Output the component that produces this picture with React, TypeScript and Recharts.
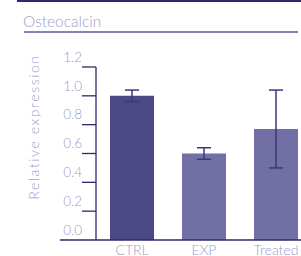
import { BarChart, Bar, XAxis, YAxis, ErrorBar, Cell } from "recharts";

const groups = ["CTRL", "EXP", "Treated"];
const expression = [1.0, 0.6, 0.77];
const errors = [0.04, 0.04, 0.27];
const yTicks = [0, 0.2, 0.4, 0.6, 0.8, 1.0, 1.2];

const data = groups.map((g, i) => ({ group: g, value: expression[i], err: errors[i] }));

const navy = "#2c2a6c";
const lightText = "#9e9cc9";
const barColors = ["#4b4886", "#716fa3", "#716fa3"];
const font = "Lato, 'Open Sans', sans-serif";

function YTick(props: any) {
  const { x, y, payload } = props;
  const isZero = payload.value === 0;
  return (
    <g>
      <line
        x1={isZero ? x - 36 : x - 14}
        x2={isZero ? x + 230 : x}
        y1={y}
        y2={y}
        stroke={navy}
        strokeWidth={1.3}
      />
      <text
        x={x - 14}
        y={y - 10}
        dy="0.355em"
        textAnchor="end"
        fill={lightText}
        fontSize={13.5}
        fontWeight={300}
        fontFamily={font}
      >
        {payload.value.toFixed(1)}
      </text>
    </g>
  );
}

export default function App() {
  return (
    <div
      style={{
        position: "absolute",
        left: 0,
        top: 0,
        width: 301,
        height: 256,
        overflow: "hidden",
        background: "#fff",
        fontFamily: font,
        fontWeight: 300,
      }}
    >
      <div style={{ position: "absolute", left: 17, top: 0, width: 284, height: 2, background: navy }} />
      <div
        style={{
          position: "absolute",
          left: 23,
          top: 12,
          fontSize: 15.5,
          color: lightText,
          lineHeight: "18px",
        }}
      >
        Osteocalcin
      </div>
      <div style={{ position: "absolute", left: 24, top: 31, width: 274, height: 2, background: "#8583b6" }} />
      <div
        style={{
          position: "absolute",
          left: 33,
          top: 127,
          transform: "translate(-50%, -50%) rotate(-90deg)",
          whiteSpace: "nowrap",
          fontSize: 14,
          letterSpacing: 1.6,
          color: lightText,
        }}
      >
        Relative expression
      </div>
      <BarChart
        width={312}
        height={262}
        data={data}
        margin={{ top: 67, right: 0, left: 0, bottom: 6 }}
        barSize={44}
      >
        <XAxis
          dataKey="group"
          axisLine={false}
          tickLine={false}
          tickSize={0}
          tickMargin={5}
          height={16}
          interval={0}
          tick={{ fill: lightText, fontSize: 14, fontWeight: 300, fontFamily: font }}
        />
        <YAxis
          width={96}
          domain={[0, 1.2]}
          ticks={yTicks}
          interval={0}
          axisLine={{ stroke: navy, strokeWidth: 1.3 }}
          tickLine={false}
          tickSize={0}
          tickMargin={0}
          tick={<YTick />}
        />
        <Bar dataKey="value" isAnimationActive={false}>
          {data.map((d, i) => (
            <Cell key={d.group} fill={barColors[i]} />
          ))}
          <ErrorBar dataKey="err" width={7} stroke="#3b377a" strokeWidth={1.5} />
        </Bar>
      </BarChart>
    </div>
  );
}
